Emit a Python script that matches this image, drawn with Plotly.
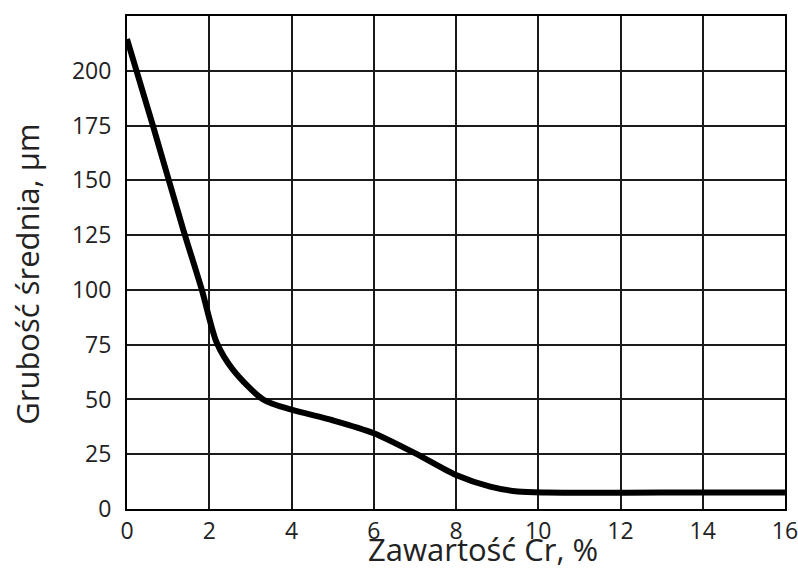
import plotly.graph_objects as go

# Chromium content (%) vs. mean thickness (µm)
cr_content = [0.0, 0.63, 1.36, 1.82, 2.18, 2.58, 3.31, 4.0, 5.0, 6.0, 7.0,
              8.0, 8.83, 9.5, 10.2, 13.0, 16.0]
thickness = [214.5, 175, 128, 100, 76, 63.5, 50, 45.3, 40.5, 34.6, 25.5,
             15.5, 10.2, 8.0, 7.5, 7.5, 7.5]

x_ticks = [0, 2, 4, 6, 8, 10, 12, 14, 16]
y_ticks = [0, 25, 50, 75, 100, 125, 150, 175, 200]

x_title = "Zawartość Cr, %"
y_title = "Grubość średnia, µm"

fig = go.Figure()
fig.add_trace(go.Scatter(
    x=cr_content, y=thickness, mode="lines",
    line=dict(color="black", width=6, shape="spline", smoothing=0.8),
    showlegend=False, hoverinfo="skip",
))

font_family = "Open Sans, DejaVu Sans, sans-serif"
text_color = "#222"
grid_color = "#1a1a1a"

fig.update_xaxes(
    range=[0, 16], tickvals=x_ticks, ticks="", showgrid=True,
    gridcolor=grid_color, gridwidth=1.6, zeroline=False, automargin=False,
    showline=True, linecolor="black", linewidth=2, mirror=True,
    ticklabelstandoff=0, ticklabeloverflow="allow",
    tickfont=dict(family=font_family, size=23, color=text_color),
)
fig.update_yaxes(
    range=[0, 225], tickvals=y_ticks, ticks="", showgrid=True,
    gridcolor=grid_color, gridwidth=1.6, zeroline=False, automargin=False,
    showline=True, linecolor="black", linewidth=2, mirror=True,
    ticklabelstandoff=9, ticklabeloverflow="allow",
    tickfont=dict(family=font_family, size=23, color=text_color),
)

# Axis titles placed as annotations for exact positioning
fig.add_annotation(
    text=x_title, xref="paper", yref="paper", x=0.541, y=-0.1278,
    xanchor="center", yanchor="bottom", showarrow=False,
    font=dict(family=font_family, size=31, color=text_color),
)
fig.add_annotation(
    text=y_title, xref="paper", yref="paper", x=-0.152, y=0.477,
    xanchor="center", yanchor="middle", showarrow=False, textangle=-90,
    font=dict(family=font_family, size=31, color=text_color),
)

fig.update_layout(
    width=798, height=572,
    margin=dict(l=127, r=13, t=16, b=63),
    paper_bgcolor="white", plot_bgcolor="white",
)

fig.write_html("out.html")
